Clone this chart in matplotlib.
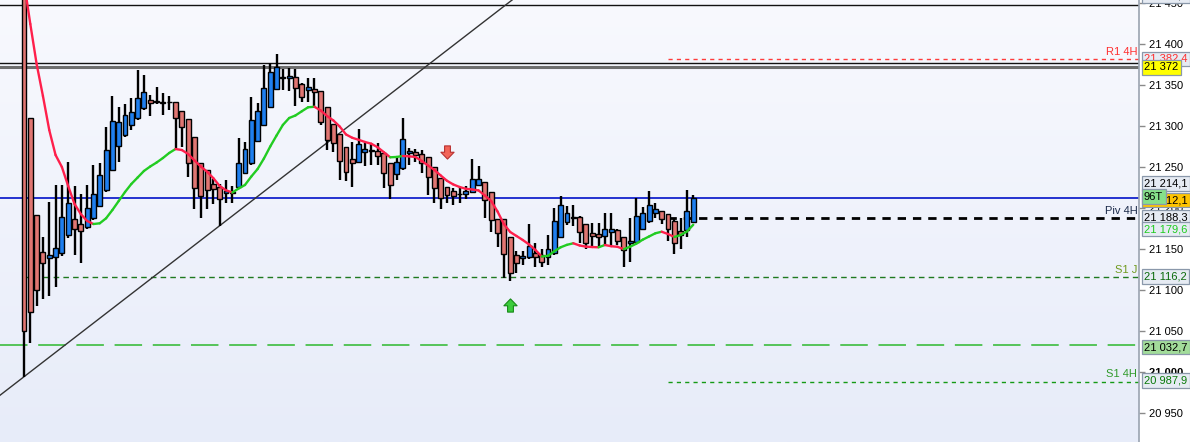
import numpy as np
import matplotlib
matplotlib.use("Agg")
import matplotlib.pyplot as plt
from matplotlib.collections import LineCollection
from matplotlib.colors import LinearSegmentedColormap
from matplotlib.path import Path
from matplotlib.transforms import blended_transform_factory

plt.rcParams['font.family'] = ['Liberation Sans', 'DejaVu Sans']

# ---- candle data ----
opens = [21470, 21309.6, 21191.2, 21146.0, 21138.6, 21139.9, 21144.7, 21166.7, 21186.3, 21180.2,
         21176.5, 21187.5, 21202.2, 21221.7, 21246.1, 21275.4, 21289.6, 21301.1, 21310.0, 21321.9,
         21332.0, 21330.5, 21329.2, 21329.5, 21329.2, 21318.9, 21308.4, 21287.2, 21255.4, 21246.5,
         21229.4, 21225.4, 21218.0, 21218.0, 21226.1, 21243.2, 21254.7, 21282.3, 21301.5, 21323.8,
         21345.1, 21359.8, 21358.5, 21359.7, 21351.5, 21344.2, 21345.8, 21343.4, 21323.8, 21302.1,
         21290.5, 21274.2, 21259.6, 21256.6, 21268.1, 21270.6, 21269.7, 21266.9, 21254.7, 21241.6,
         21248.6, 21266.9, 21268.1, 21266.0, 21262.7, 21249.8, 21236.4, 21225.4, 21220.8, 21217.7,
         21217.2, 21220.0, 21228.2, 21232.2, 21220.0, 21186.3, 21186.3, 21164.3, 21142.3, 21138.6,
         21139.9, 21145.5, 21142.7, 21139.9, 21144.7, 21164.3, 21183.3, 21189.2, 21188.7, 21180.2,
         21169.2, 21167.9, 21165.9, 21170.8, 21172.8, 21165.0, 21157.7, 21158.2, 21174.1, 21183.8,
         21193.6, 21196.4, 21192.4, 21184.2, 21172.0, 21173.2, 21183.0]
highs = [21480, 21309.6, 21191.2, 21164.6, 21207.4, 21228.2, 21228.2, 21255.9, 21226.9, 21216.8,
         21228.2, 21252.6, 21255.4, 21299.0, 21336.5, 21323.4, 21326.7, 21334.8, 21368.3, 21362.2,
         21338.1, 21347.5, 21340.2, 21337.2, 21329.2, 21318.9, 21308.4, 21287.2, 21255.4, 21246.5,
         21235.1, 21229.4, 21234.3, 21226.9, 21285.2, 21281.1, 21335.3, 21328.7, 21374.7, 21376.8,
         21388.2, 21369.5, 21371.4, 21369.5, 21352.4, 21358.5, 21358.5, 21343.4, 21323.8, 21302.1,
         21290.5, 21274.2, 21281.1, 21296.2, 21279.8, 21279.8, 21279.8, 21266.9, 21254.7, 21262.7,
         21309.6, 21273.0, 21271.8, 21270.9, 21262.7, 21249.8, 21236.4, 21225.4, 21224.1, 21224.1,
         21226.9, 21259.6, 21251.4, 21232.2, 21220.0, 21186.3, 21186.3, 21164.3, 21147.6, 21147.6,
         21180.5, 21157.0, 21149.6, 21167.1, 21199.7, 21214.7, 21202.5, 21203.7, 21190.3, 21180.2,
         21181.4, 21181.4, 21193.6, 21193.6, 21174.4, 21165.0, 21187.5, 21211.9, 21201.7, 21220.8,
         21205.8, 21196.4, 21192.4, 21187.9, 21187.5, 21222.1, 21216.0]
lows = [20994.0, 21035.5, 21080.7, 21089.3, 21093.0, 21103.2, 21142.0, 21164.0, 21142.7, 21132.5,
        21175.0, 21186.0, 21201.0, 21220.0, 21245.0, 21256.6, 21287.2, 21295.3, 21308.0, 21320.0,
        21312.8, 21327.0, 21314.0, 21319.8, 21273.0, 21274.2, 21238.3, 21198.5, 21187.5, 21198.5,
        21204.6, 21178.5, 21205.8, 21205.8, 21225.0, 21242.0, 21253.0, 21281.0, 21300.0, 21322.0,
        21344.0, 21344.2, 21343.4, 21325.0, 21329.9, 21329.9, 21323.8, 21302.0, 21270.9, 21268.8,
        21233.9, 21233.4, 21226.1, 21255.0, 21251.7, 21252.6, 21252.6, 21224.1, 21210.7, 21234.3,
        21247.0, 21252.6, 21256.6, 21243.2, 21216.0, 21206.5, 21198.5, 21206.5, 21203.7, 21206.5,
        21210.7, 21219.0, 21227.0, 21187.5, 21171.1, 21152.8, 21114.2, 21111.3, 21120.3, 21130.5,
        21138.0, 21127.6, 21127.6, 21130.5, 21143.0, 21163.0, 21179.3, 21178.1, 21157.7, 21149.6,
        21152.8, 21150.8, 21154.9, 21154.9, 21154.9, 21127.6, 21133.7, 21157.0, 21173.0, 21182.0,
        21187.5, 21180.5, 21160.1, 21143.9, 21149.6, 21164.3, 21182.0]
closes = [21049.5, 21072.7, 21099.9, 21132.5, 21142.3, 21150.8, 21188.7, 21205.8, 21174.1, 21171.6,
          21199.7, 21216.8, 21240.4, 21270.6, 21306.0, 21304.8, 21313.3, 21317.0, 21334.1, 21341.4,
          21328.0, 21329.5, 21328.2, 21330.0, 21310.0, 21298.6, 21254.7, 21224.1, 21214.7, 21222.1,
          21222.9, 21210.7, 21221.2, 21220.0, 21254.7, 21271.8, 21307.6, 21318.9, 21346.3, 21365.8,
          21372.7, 21358.8, 21361.3, 21347.0, 21335.3, 21348.2, 21341.4, 21305.5, 21283.1, 21279.1,
          21257.5, 21244.4, 21255.4, 21278.2, 21271.8, 21269.6, 21264.0, 21242.5, 21228.2, 21255.9,
          21284.0, 21269.7, 21264.4, 21254.7, 21237.6, 21224.1, 21211.9, 21216.0, 21214.7, 21216.7,
          21220.5, 21235.9, 21235.9, 21209.8, 21185.4, 21169.9, 21143.5, 21120.3, 21133.3, 21141.4,
          21153.7, 21140.6, 21134.5, 21149.6, 21184.2, 21203.7, 21193.6, 21188.2, 21170.8, 21157.7,
          21166.2, 21164.3, 21175.0, 21174.8, 21159.8, 21148.8, 21159.8, 21190.3, 21193.6, 21203.4,
          21198.5, 21187.0, 21174.8, 21157.7, 21166.7, 21196.4, 21212.1]
# moving average (red falling / green rising)
ma = [21476.1, 21424.8, 21376.0, 21336.9, 21295.3, 21264.8, 21250.2, 21226.9, 21205.0, 21192.7,
      21184.2, 21180.5, 21181.4, 21187.5, 21197.6, 21208.6, 21219.6, 21229.4, 21237.3, 21245.3,
      21250.8, 21255.6, 21261.1, 21267.3, 21272.1, 21270.9, 21266.0, 21258.1, 21250.8, 21244.4,
      21236.4, 21226.9, 21221.7, 21219.0, 21223.9, 21228.2, 21238.5, 21247.7, 21260.5, 21275.2,
      21288.6, 21301.5, 21310.0, 21313.1, 21318.2, 21323.1, 21323.7, 21319.2, 21312.4, 21307.0,
      21299.6, 21289.9, 21285.8, 21283.4, 21280.7, 21278.6, 21274.3, 21268.2, 21262.0, 21262.4,
      21263.6, 21263.2, 21262.4, 21257.5, 21252.0, 21246.5, 21239.8, 21233.3, 21228.8, 21225.7,
      21223.5, 21222.7, 21221.5, 21215.3, 21208.6, 21195.8, 21180.5, 21170.8, 21165.9, 21161.0,
      21155.5, 21148.8, 21140.8, 21141.7, 21147.3, 21152.1, 21155.1, 21157.0, 21154.3, 21152.9,
      21152.4, 21152.1, 21154.9, 21153.4, 21152.7, 21149.8, 21152.8, 21156.6, 21161.4, 21165.3,
      21169.2, 21171.1, 21168.3, 21164.7, 21167.1, 21171.4, 21179.6]

tick_values = [20950, 21000, 21050, 21100, 21150, 21200, 21250, 21300, 21350, 21400, 21450]

# horizontal levels
top_line = 21447.7
res_line = 21376.8
res_gray = 21372.0
r1_4h = 21382.4
last_price = 21212.1
piv_4h = 21188.3
s1_j = 21116.2
green_level = 21032.7
s1_4h = 20987.9
pivot_start = 102          # 4H levels start at this candle
trend_pts = [(0, 20994.0), (31, 21178.5)]

# signal arrows
sell_idx, sell_price = 67, 21268.4
buy_idx, buy_price = 77, 21081.6

W, H = 1190, 442
AX_W = 1139
fig = plt.figure(figsize=(W / 100, H / 100), dpi=100)
fig.patch.set_facecolor('white')
ax = fig.add_axes([0, 0, AX_W / W, 1])

xlo, xhi = -3.8, 176.6
ylo, yhi = 20914.3, 21454.1
ax.set_xlim(xlo, xhi)
ax.set_ylim(ylo, yhi)

# gradient background, light at the top
grad = np.linspace(0, 1, 256).reshape(-1, 1)
bg = LinearSegmentedColormap.from_list('bg', ['#f8f9fe', '#e7ecf9'])
ax.imshow(grad, cmap=bg, aspect='auto', extent=[xlo, xhi, ylo, yhi], zorder=0, origin='upper')
ax.set_xlim(xlo, xhi)
ax.set_ylim(ylo, yhi)

idx = np.arange(len(opens))
o = np.array(opens); c = np.array(closes)
hi = np.array(highs); lo = np.array(lows)
up = c >= o

# horizontal lines
ax.axhline(top_line, color='#111111', lw=1.0, zorder=1)
ax.axhline(res_line, color='#111111', lw=1.0, zorder=1)
ax.axhline(res_gray, color='#6e6e6e', lw=2.2, zorder=1)
ax.axhline(last_price, color='#0010c8', lw=1.2, zorder=1)
ax.plot([pivot_start, xhi], [r1_4h, r1_4h], color='#ff3b3b', lw=1.0, dashes=(3, 3), zorder=1)
ax.plot([pivot_start, xhi], [piv_4h, piv_4h], color='#000000', lw=2.0, dashes=(3, 2.5), zorder=1)
ax.plot([pivot_start, xhi], [s1_4h, s1_4h], color='#159a15', lw=1.0, dashes=(3, 3), zorder=1)
ax.plot([0, xhi], [s1_j, s1_j], color='#1f7a1f', lw=1.0, dashes=(4, 3), zorder=1)
ax.axhline(green_level, color='#2eb82e', lw=1.1, dashes=(18, 7), zorder=1)
ax.axline(trend_pts[0], trend_pts[1], color='#333333', lw=1.0, zorder=1)

# candles
ax.vlines(idx, lo, hi, color='black', lw=1.7, zorder=2)
body_bottom = np.minimum(o, c)
body_h = np.abs(c - o)
ax.bar(idx[up], body_h[up], bottom=body_bottom[up], width=0.78,
       color='#1f7fef', edgecolor='black', linewidth=1.0, zorder=3)
ax.bar(idx[~up], body_h[~up], bottom=body_bottom[~up], width=0.78,
       color='#e07672', edgecolor='black', linewidth=1.0, zorder=3)

# moving average, coloured by direction
ma_arr = np.array(ma)
pts = np.column_stack([idx, ma_arr])
segs = np.stack([pts[:-1], pts[1:]], axis=1)
cols = ['#22cc22' if d > 0 else '#ff1f4b' for d in np.diff(ma_arr)]
ax.add_collection(LineCollection(segs, colors=cols, linewidths=1.7, zorder=4,
                                 capstyle='round', joinstyle='round'))

# arrows
arrow_down = Path([(-0.22, 0.5), (0.22, 0.5), (0.22, 0.02), (0.5, 0.02), (0.0, -0.5),
                   (-0.5, 0.02), (-0.22, 0.02), (-0.22, 0.5)], closed=True)
arrow_up = Path([(x, -y) for x, y in arrow_down.vertices], closed=True)
ax.plot(sell_idx, sell_price, marker=arrow_down, ms=9.5, mfc='#f26458', mec='#b83030', mew=0.8, zorder=5)
ax.plot(buy_idx, buy_price, marker=arrow_up, ms=9.5, mfc='#3ccc3c', mec='#178a17', mew=0.8, zorder=5)

# axis styling
for s in ['top', 'left', 'bottom']:
    ax.spines[s].set_visible(False)
ax.spines['right'].set_color('#9aa3b0')
ax.spines['right'].set_linewidth(1.2)
ax.set_xticks([])
ax.yaxis.tick_right()
ax.set_yticks(tick_values)
ax.set_yticklabels([f"{v:,}".replace(",", " ") for v in tick_values])
ax.tick_params(axis='y', direction='out', length=4, width=1, color='#8a8a8a',
               labelsize=8, pad=3, labelcolor='black')
for lab, v in zip(ax.get_yticklabels(), tick_values):
    if v == 21000:
        lab.set_fontweight('bold')

# level names left of the axis
tr_ax = blended_transform_factory(ax.transAxes, ax.transData)
names = [("R1 4H", 21390.6, '#ff3030'), ("Piv 4H", 21196.4, '#1c2b4a'),
         ("S1 J", 21124.3, '#6f9a1e'), ("S1 4H", 20997.3, '#2f9a2a')]
for txt, yv, col in names:
    ax.text(0.9985, yv, txt, transform=tr_ax, ha='right', va='center', fontsize=8, color=col, zorder=6)

# price boxes on the axis
tr_fig = blended_transform_factory(fig.transFigure, ax.transData)
boxes = [("21 458,4", 21459.0, 'black', '#e6ebf3'),
         ("21 382,4", 21382.1, '#ff3030', '#e6ebf3'),
         ("21 372", 21372.0, 'black', '#ffff00'),
         ("21 214,1", 21230.2, 'black', '#e6ebf3'),
         ("21 212,1", 21209.8, 'black', '#ffc400'),
         ("96T", 21214.1, 'black', '#86e08a'),
         ("21 188,3", 21188.3, 'black', '#e6ebf3'),
         ("21 179,6", 21174.4, '#1ecc1e', '#e6ebf3'),
         ("21 116,2", 21116.2, '#0a6a0a', '#e6ebf3'),
         ("21 032,7", 21030.3, 'black', '#a2dc9a'),
         ("20 987,9", 20989.1, '#0a7a0a', '#e6ebf3')]
for i, (txt, yv, col, fc) in enumerate(boxes):
    ax.text(1144 / W, yv, txt, transform=tr_fig, ha='left', va='center', fontsize=8,
            color=col, clip_on=False, zorder=10 + i,
            bbox=dict(boxstyle='square,pad=0.22', fc=fc, ec='#8a98aa', lw=0.9))

fig.savefig("out.png", dpi=100)
